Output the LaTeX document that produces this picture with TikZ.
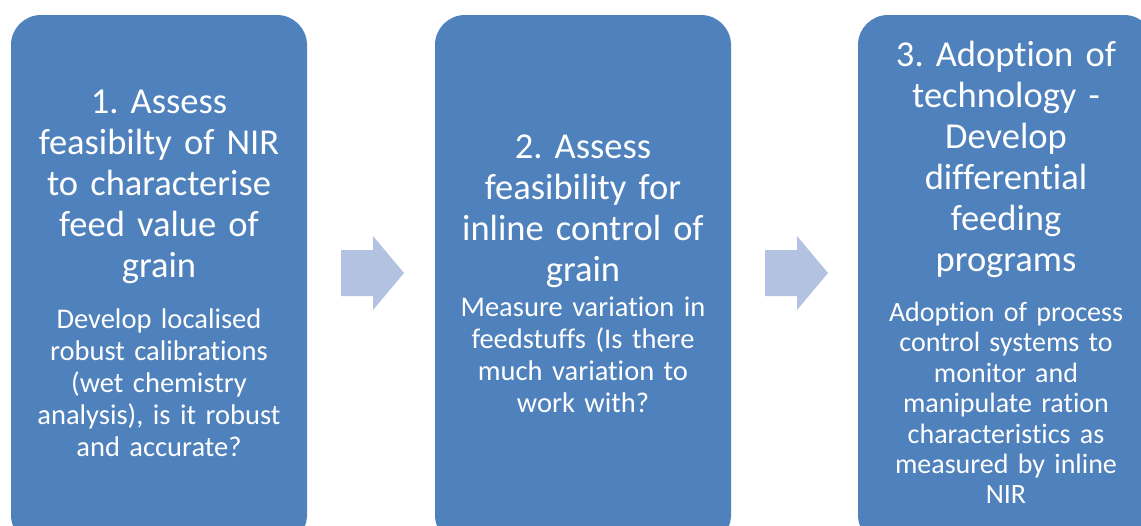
\documentclass[tikz,border=0pt]{standalone}
\usepackage{fontspec}
\setmainfont{Carlito}[Ligatures={NoCommon}]
\usepackage{tikz}
\usetikzlibrary{positioning}
\frenchspacing
\definecolor{stageblue}{RGB}{79,129,189}
\definecolor{flowblue}{RGB}{179,194,224}
\tikzstyle{stage} = [rectangle, rounded corners=30pt, minimum width=296pt, minimum height=530pt, fill=stageblue, draw=none]
\tikzstyle{headtext} = [text width=290pt, align=center, text=white, inner sep=0pt, font=\fontsize{36.5}{41}\selectfont]
\tikzstyle{bodytext} = [text width=290pt, align=center, text=white, inner sep=0pt, font=\fontsize{28.5}{32}\selectfont]
\tikzstyle{flow} = [fill=flowblue, draw=none]

\begin{document}
\begin{tikzpicture}[x=1pt, y=-1pt]
    \useasboundingbox (0,0) rectangle (1141,525);
    \clip (0,0) rectangle (1141,525);
    % Boxes
    \node (stage1) [stage] at (159,280) {};
    \node (stage2) [stage] at (583,280) {};
    \node (stage3) [stage] at (1006,280) {};

    % Texts
    \node (head1) [headtext] at (159,187) {1. Assess\\ feasibilty of NIR\\ to characterise\\ feed value of\\ grain};
    \node (body1) [bodytext] at (159,383) {Develop localised\\ robust calibrations\\ (wet chemistry\\ analysis), is it robust\\ and accurate?};
    \node (head2) [headtext] at (583,211.5) {2. Assess\\ feasibility for\\ inline control of\\ grain};
    \node (body2) [bodytext] at (583,355) {Measure variation in\\ feedstuffs (Is there\\ much variation to\\ work with?};
    \node (head3) [headtext] at (1006,159.5) {3. Adoption of\\ technology -\\ Develop\\ differential\\ feeding\\ programs};
    \node (body3) [bodytext, font=\fontsize{28}{30.4}\selectfont] at (1006,403) {Adoption of process\\ control systems to\\ monitor and\\ manipulate ration\\ characteristics as\\ measured by inline\\ NIR};

    % Arrows
    \foreach \x in {0,424} {
        \fill [flow, xshift=\x] (341,250) -- (373,250) -- (373,236) -- (404,273)
            -- (373,310) -- (373,296) -- (341,296) -- cycle;
    }
\end{tikzpicture}
\end{document}
